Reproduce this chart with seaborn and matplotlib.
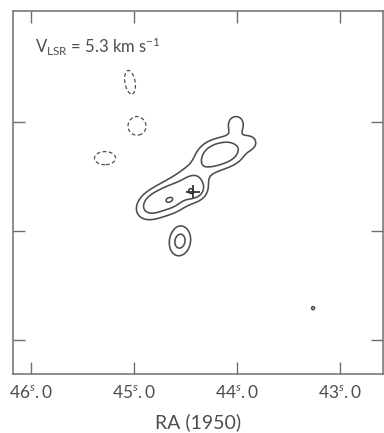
import numpy as np
import matplotlib
matplotlib.use("Agg")
import matplotlib.pyplot as plt
import seaborn as sns

# Emission ridges: straight segments with a Gaussian cross-section
# (RA in seconds of time, Dec offset in arcsec)
ridge_ra1 = [44.956, 44.316, 44.393, 44.888]
ridge_dec1 = [1.65, 6.79, 4.31, 2.57]
ridge_ra2 = [44.432, 43.956, 44.306, 44.432]
ridge_dec2 = [3.76, 7.61, 6.70, 5.78]
ridge_width = [1.01, 1.06, 1.10, 0.73]
ridge_peak = [6.0, 7.9, 3.2, 2.2]

# Compact clumps: elliptical Gaussians (negative amplitude = absorption)
clump_ra = [44.383, 44.646, 44.005, 43.859, 44.549, 43.257,
            45.034, 44.966, 45.277]
clump_dec = [3.85, 2.84, 9.91, 8.17, -0.92, -7.06,
             13.67, 9.63, 6.70]
clump_smaj = [0.75, 0.46, 0.69, 0.60, 1.17, 0.28,
              1.28, 0.97, 1.14]
clump_smin = [0.75, 0.32, 0.69, 0.60, 0.84, 0.28,
              0.55, 0.97, 0.71]
clump_pa = [0, 23, 0, 0, 80, 0, 100, 0, 0]
clump_amp = [4.0, 3.0, 4.3, 3.0, 5.8, 3.4, -4.3, -4.3, -4.3]

levels_neg = [-3]
levels_pos = [3, 5, 9]

# Continuum source position
src_ra = [44.422]
src_dec = [3.58]

ra_ticks = [46, 45, 44, 43]
ra_ticklabels = [r"$\mathit{46^{s}.0}$", r"$\mathit{45^{s}.0}$",
                 r"$\mathit{44^{s}.0}$", r"$\mathit{43^{s}.0}$"]
dec_ticks = [-10, 0, 10]

ARCSEC_PER_SEC = 9.45
INK = "#4d4d4d"
FRAME = "#6e6e6e"


def erf(x):
    # Abramowitz & Stegun 7.1.26
    s = np.sign(x)
    x = np.abs(x)
    t = 1.0 / (1.0 + 0.3275911 * x)
    y = 1.0 - (((((1.061405429 * t - 1.453152027) * t) + 1.421413741) * t
                - 0.284496736) * t + 0.254829592) * t * np.exp(-x * x)
    return s * y


sns.set_theme(style="white")
plt.rcParams["font.family"] = ["Lato", "DejaVu Sans"]
plt.rcParams["mathtext.fontset"] = "custom"
plt.rcParams["mathtext.rm"] = "Lato"
plt.rcParams["mathtext.it"] = "Lato:italic"

fig = plt.figure(figsize=(3.84, 4.33), dpi=100)
ax = fig.add_axes([13 / 384, 59 / 433, 370 / 384, 363 / 433])

ra = np.linspace(42.5, 46.25, 700)
dec = np.linspace(-14.5, 21.5, 700)
RA, DEC = np.meshgrid(ra, dec)
Z = np.zeros_like(RA)

for r1, d1, r2, d2, w, pk in zip(ridge_ra1, ridge_dec1, ridge_ra2,
                                 ridge_dec2, ridge_width, ridge_peak):
    ex = (r1 - r2) * ARCSEC_PER_SEC
    ey = d2 - d1
    L = np.hypot(ex, ey)
    u = (r1 - RA) * ARCSEC_PER_SEC
    v = DEC - d1
    p = (u * ex + v * ey) / L
    q = (-u * ey + v * ex) / L
    along = 0.5 * (erf((L - p) / (w * np.sqrt(2))) - erf(-p / (w * np.sqrt(2))))
    Z += pk * along * np.exp(-0.5 * (q / w) ** 2)

for r0, d0, sa, sb, pa, a in zip(clump_ra, clump_dec, clump_smaj, clump_smin,
                                 clump_pa, clump_amp):
    u = (r0 - RA) * ARCSEC_PER_SEC
    v = DEC - d0
    t = np.deg2rad(pa)
    p = u * np.cos(t) + v * np.sin(t)
    q = -u * np.sin(t) + v * np.cos(t)
    Z += a * np.exp(-0.5 * ((p / sa) ** 2 + (q / sb) ** 2))

ax.contour(RA, DEC, Z, levels=levels_pos, colors=INK, linewidths=1.15,
           linestyles="solid")
cn = ax.contour(RA, DEC, Z, levels=levels_neg, colors=INK, linewidths=0.9,
                linestyles="solid")
cn.set_linestyle((0, (3.0, 2.0)))

sns.scatterplot(x=src_ra, y=src_dec, marker="+", s=100, color="#333333",
                linewidth=1.3, ax=ax, legend=False)
sns.scatterplot(x=[src_ra[0] + 0.02], y=[src_dec[0] + 0.1], marker="o", s=12,
                facecolor="none", edgecolor="#333333", linewidth=1.1, ax=ax,
                legend=False)

ax.set_xlim(46.17, 42.578)
ax.set_ylim(-13.1, 20.2)
ax.set_xticks(ra_ticks)
ax.set_xticklabels(ra_ticklabels)
ax.set_yticks(dec_ticks)
ax.set_yticklabels([])
ax.tick_params(direction="in", length=8.6, width=1.0, color=FRAME,
               top=True, right=True, bottom=True, left=True,
               labelsize=12.5, labelcolor=INK, pad=7)
for s in ax.spines.values():
    s.set_color(FRAME)
    s.set_linewidth(1.1)

ax.set_xlabel("RA (1950)", fontsize=14, color=INK, labelpad=9)
ax.set_ylabel("")
ax.text(0.06, 0.9, r"$\mathrm{V_{LSR}}$ = 5.3 km s$^{-1}$",
        transform=ax.transAxes, fontsize=12, color=INK,
        ha="left", va="center")

fig.savefig("out.png", dpi=100)
